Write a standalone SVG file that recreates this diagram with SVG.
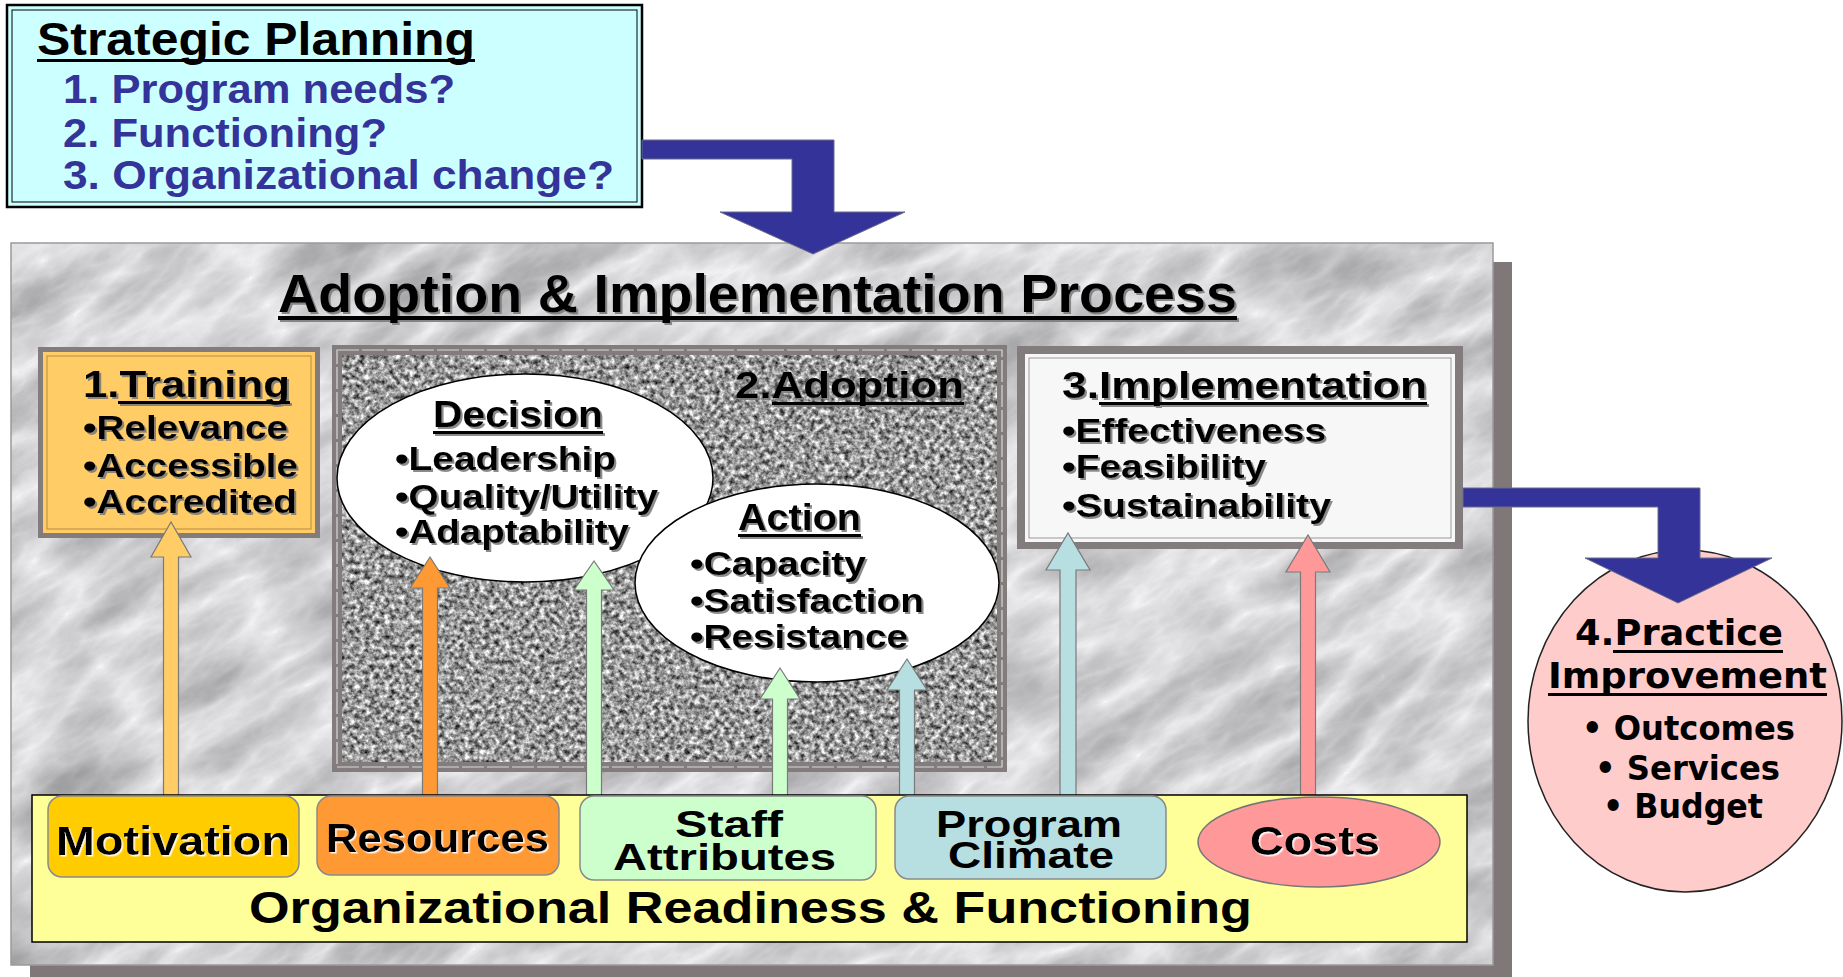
<svg xmlns="http://www.w3.org/2000/svg" width="1843" height="977" viewBox="0 0 1843 977">
<style>
.t{font-family:"Liberation Sans",Arial,sans-serif;font-weight:bold;fill:#000}
.v{font-family:"DejaVu Sans",Verdana,sans-serif;font-weight:bold;fill:#000}
.navy{fill:#333399}
.ul{fill:#000}
.frame{fill:#827c7c}
.arr{stroke:#7a7a7a;stroke-width:1.2}
.bent{fill:#333399;stroke:#6a6a8a;stroke-width:1}
.ell{fill:#fff;stroke:#000;stroke-width:1.5}
.box{stroke:#8a8a8a;stroke-width:1.5}
</style>
<defs>
<filter id="marble" x="0" y="0" width="100%" height="100%" color-interpolation-filters="sRGB">
<feTurbulence type="turbulence" baseFrequency="0.006 0.016" numOctaves="5" seed="3"/>
<feColorMatrix type="matrix" values="-0.42 0 0 0 0.96  -0.42 0 0 0 0.96  -0.42 0 0 0 0.97  0 0 0 0 1"/>
<feComposite in2="SourceAlpha" operator="in"/>
</filter>
<filter id="granite" x="0" y="0" width="100%" height="100%" color-interpolation-filters="sRGB">
<feTurbulence type="fractalNoise" baseFrequency="0.2" numOctaves="3" seed="7"/>
<feColorMatrix type="matrix" values="1.4 0 0 0 -0.1  1.4 0 0 0 -0.1  1.4 0 0 0 -0.1  0 0 0 0 1"/>
<feComposite in2="SourceAlpha" operator="in"/>
</filter>
<filter id="sh" x="-5%" y="-20%" width="110%" height="140%">
<feDropShadow dx="2" dy="2" stdDeviation="0.5" flood-color="#777" flood-opacity="0.85"/>
</filter>
<filter id="wsh" x="-5%" y="-20%" width="110%" height="140%">
<feDropShadow dx="1.5" dy="1.5" stdDeviation="0" flood-color="#fff" flood-opacity="0.9"/>
</filter>
<clipPath id="panelClip"><rect x="11" y="243" width="1482" height="722"/></clipPath>
</defs>

<rect width="1843" height="977" fill="#fff"/>

<g id="panel">
<rect x="30" y="262" width="1482" height="715" fill="#807878"/>
<rect x="11" y="243" width="1482" height="722" fill="#e2e2e4"/>
<g clip-path="url(#panelClip)">
<rect x="-400" y="-300" width="2400" height="1700" transform="rotate(-32 752 604)" fill="#ddd" filter="url(#marble)"/>
</g>
<rect x="11" y="243" width="1482" height="722" fill="none" stroke="#9a9a9a" stroke-width="1.5"/>
</g>

<g id="strategic">
<rect x="7" y="5" width="635" height="202" fill="#ccffff" stroke="#000" stroke-width="2.5"/>
<rect x="12" y="10" width="625" height="192" fill="none" stroke="#000" stroke-width="1"/>
<text class="t" x="37" y="55" font-size="46" textLength="438" lengthAdjust="spacingAndGlyphs">Strategic Planning</text>
<rect class="ul" x="37" y="59" width="438" height="3"/>
<text class="t navy" x="63" y="103" font-size="40" textLength="392" lengthAdjust="spacingAndGlyphs">1. Program needs?</text>
<text class="t navy" x="63" y="147" font-size="40" textLength="324" lengthAdjust="spacingAndGlyphs">2. Functioning?</text>
<text class="t navy" x="63" y="189" font-size="40" textLength="551" lengthAdjust="spacingAndGlyphs">3. Organizational change?</text>
</g>

<g id="title" filter="url(#sh)">
<text class="t" x="278" y="312" font-size="54" textLength="959" lengthAdjust="spacingAndGlyphs">Adoption &amp; Implementation Process</text>
<rect class="ul" x="278" y="316" width="959" height="4"/>
</g>

<g id="training">
<rect class="frame" x="38" y="347" width="282" height="191"/>
<rect x="43" y="352" width="272" height="181" fill="#ffcc66"/>
<rect x="47" y="356" width="264" height="173" fill="none" stroke="#b88a40" stroke-width="1"/>
<g filter="url(#sh)">
<text class="t" x="83" y="397" font-size="37" textLength="207" lengthAdjust="spacingAndGlyphs">1.Training</text>
<rect class="ul" x="118" y="401" width="172" height="3"/>
<text class="t" x="83" y="439" font-size="34" textLength="205" lengthAdjust="spacingAndGlyphs">•Relevance</text>
<text class="t" x="83" y="477" font-size="34" textLength="215" lengthAdjust="spacingAndGlyphs">•Accessible</text>
<text class="t" x="83" y="513" font-size="34" textLength="214" lengthAdjust="spacingAndGlyphs">•Accredited</text>
</g>
</g>

<g id="adoption">
<rect class="frame" x="332" y="345" width="675" height="427"/>
<rect x="337" y="350" width="665" height="417" fill="none" stroke="#d8d8d8" stroke-width="1.2" stroke-dasharray="22 3"/>
<rect x="342" y="355" width="655" height="407" fill="#999" filter="url(#granite)"/>
<g filter="url(#sh)">
<text class="t" x="735" y="398" font-size="37" textLength="229" lengthAdjust="spacingAndGlyphs">2.Adoption</text>
<rect class="ul" x="772" y="402" width="192" height="3"/>
</g>
</g>

<g id="decision">
<ellipse class="ell" cx="525" cy="478" rx="188" ry="104"/>
<g filter="url(#sh)">
<text class="t" x="433" y="427" font-size="36" textLength="170" lengthAdjust="spacingAndGlyphs">Decision</text>
<rect class="ul" x="433" y="431" width="170" height="3"/>
<text class="t" x="395" y="470" font-size="34" textLength="221" lengthAdjust="spacingAndGlyphs">•Leadership</text>
<text class="t" x="395" y="508" font-size="34" textLength="263" lengthAdjust="spacingAndGlyphs">•Quality/Utility</text>
<text class="t" x="395" y="543" font-size="34" textLength="234" lengthAdjust="spacingAndGlyphs">•Adaptability</text>
</g>
</g>

<g id="action">
<ellipse class="ell" cx="817" cy="583" rx="182" ry="99"/>
<g filter="url(#sh)">
<text class="t" x="738" y="530" font-size="36" textLength="123" lengthAdjust="spacingAndGlyphs">Action</text>
<rect class="ul" x="738" y="534" width="123" height="3"/>
<text class="t" x="690" y="575" font-size="34" textLength="176" lengthAdjust="spacingAndGlyphs">•Capacity</text>
<text class="t" x="690" y="612" font-size="34" textLength="234" lengthAdjust="spacingAndGlyphs">•Satisfaction</text>
<text class="t" x="690" y="648" font-size="34" textLength="218" lengthAdjust="spacingAndGlyphs">•Resistance</text>
</g>
</g>

<g id="implementation">
<rect class="frame" x="1017" y="346" width="446" height="203"/>
<rect x="1025" y="354" width="430" height="188" fill="#f7f7f7"/>
<rect x="1029" y="358" width="422" height="180" fill="none" stroke="#999" stroke-width="1"/>
<g filter="url(#sh)">
<text class="t" x="1062" y="398" font-size="37" textLength="365" lengthAdjust="spacingAndGlyphs">3.Implementation</text>
<rect class="ul" x="1099" y="402" width="328" height="3"/>
<text class="t" x="1062" y="442" font-size="34" textLength="264" lengthAdjust="spacingAndGlyphs">•Effectiveness</text>
<text class="t" x="1062" y="478" font-size="34" textLength="204" lengthAdjust="spacingAndGlyphs">•Feasibility</text>
<text class="t" x="1062" y="517" font-size="34" textLength="269" lengthAdjust="spacingAndGlyphs">•Sustainability</text>
</g>
</g>

<g id="practice">
<ellipse cx="1685" cy="721" rx="157" ry="171" fill="#ffcccc" stroke="#222" stroke-width="1.5"/>
<text class="v" x="1575" y="645" font-size="35" textLength="208" lengthAdjust="spacingAndGlyphs">4.Practice</text>
<rect class="ul" x="1613" y="650" width="170" height="3"/>
<text class="v" x="1548" y="688" font-size="35" textLength="279" lengthAdjust="spacingAndGlyphs">Improvement</text>
<rect class="ul" x="1548" y="693" width="279" height="3"/>
<text class="v" x="1582" y="740" font-size="34" textLength="213" lengthAdjust="spacingAndGlyphs">• Outcomes</text>
<text class="v" x="1595" y="780" font-size="34" textLength="185" lengthAdjust="spacingAndGlyphs">• Services</text>
<text class="v" x="1603" y="818" font-size="34" textLength="160" lengthAdjust="spacingAndGlyphs">• Budget</text>
</g>

<g id="connectors">
<polygon class="bent" points="642,140 834,140 834,212 905,212 813,254 720,212 792,212 792,159 642,159"/>
<polygon class="bent" points="1463,488 1700,488 1700,558 1772,558 1678,603 1585,558 1658,558 1658,507 1463,507"/>
<polygon class="arr" fill="#ffcc66" points="163.5,796 163.5,557 151,557 171,522 191,557 178.5,557 178.5,796"/>
<polygon class="arr" fill="#ff9933" points="422.5,796 422.5,588 410,588 430,557 450,588 437.5,588 437.5,796"/>
<polygon class="arr" fill="#ccffcc" points="586.5,796 586.5,590 574,590 594,561 614,590 601.5,590 601.5,796"/>
<polygon class="arr" fill="#ccffcc" points="772.5,796 772.5,699 760,699 780,668 800,699 787.5,699 787.5,796"/>
<polygon class="arr" fill="#b7dee0" points="899.5,796 899.5,690 887,690 907,659 927,690 914.5,690 914.5,796"/>
<polygon class="arr" fill="#b7dee0" points="1060,796 1060,570 1046,570 1068,533 1090,570 1076,570 1076,796"/>
<polygon class="arr" fill="#ff9999" points="1300.5,798 1300.5,572 1286,572 1308,535 1330,572 1315.5,572 1315.5,798"/>
</g>

<g id="band">
<rect x="32" y="795" width="1435" height="147" fill="#ffff99" stroke="#000" stroke-width="1.5"/>
<text class="t" x="249" y="923" font-size="44" textLength="1003" lengthAdjust="spacingAndGlyphs">Organizational Readiness &amp; Functioning</text>
</g>

<g id="motivation">
<rect class="box" x="48" y="796" width="251" height="81" rx="14" fill="#ffcc00"/>
<text class="t" x="56" y="855" font-size="40" textLength="234" lengthAdjust="spacingAndGlyphs" filter="url(#wsh)">Motivation</text>
</g>

<g id="resources">
<rect class="box" x="317" y="796" width="242" height="79" rx="14" fill="#ff9933"/>
<text class="t" x="326" y="852" font-size="40" textLength="223" lengthAdjust="spacingAndGlyphs" filter="url(#wsh)">Resources</text>
</g>

<g id="staff">
<rect class="box" x="580" y="796" width="296" height="84" rx="14" fill="#ccffcc"/>
<text class="t" x="675" y="837" font-size="36" textLength="108" lengthAdjust="spacingAndGlyphs">Staff</text>
<text class="t" x="613" y="870" font-size="36" textLength="223" lengthAdjust="spacingAndGlyphs">Attributes</text>
</g>

<g id="program">
<rect class="box" x="895" y="796" width="271" height="83" rx="14" fill="#b7dee0"/>
<text class="t" x="936" y="837" font-size="36" textLength="186" lengthAdjust="spacingAndGlyphs">Program</text>
<text class="t" x="948" y="868" font-size="36" textLength="166" lengthAdjust="spacingAndGlyphs">Climate</text>
</g>

<g id="costs">
<ellipse cx="1319" cy="842" rx="121" ry="45" fill="#ff9999" stroke="#777" stroke-width="1.5"/>
<text class="t" x="1250" y="855" font-size="40" textLength="130" lengthAdjust="spacingAndGlyphs" filter="url(#wsh)">Costs</text>
</g>
</svg>
